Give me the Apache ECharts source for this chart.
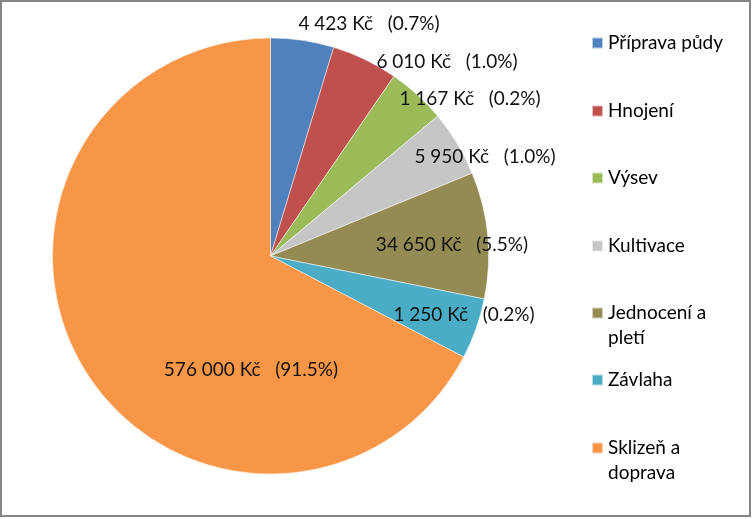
<!DOCTYPE html>
<html>
<head>
<meta charset="utf-8">
<script src="https://cdn.jsdelivr.net/npm/echarts@6/dist/echarts.min.js"></script>
<style>
  html, body { margin: 0; padding: 0; background: #fff; }
  #chart { position: absolute; left: 0; top: 0; width: 747px; height: 513px; border: 2px solid #868686; background: #fff; }
</style>
</head>
<body>
<div id="chart"></div>
<script>
// ---- data ----
const categories = ['Příprava půdy', 'Hnojení', 'Výsev', 'Kultivace', 'Jednocení a pletí', 'Závlaha', 'Sklizeň a doprava'];
const amountsCZK = [4423, 6010, 1167, 5950, 34650, 1250, 576000];
const percentLabels = [0.7, 1.0, 0.2, 1.0, 5.5, 0.2, 91.5];
// slice sizes as drawn in the reference (angles in degrees)
const sliceSizes = [16.85, 17.65, 15.56, 17.6, 33.7, 16.24, 242.4];

// ---- styling / layout ----
const colors = ['#4F81BD', '#C0504D', '#9BBB59', '#C6C6C6', '#948A54', '#4BACC6', '#F79646'];
const labelCenters = [[367, 22], [445, 60], [468, 97], [483, 155], [450, 243], [462, 313], [249, 368]];
const legendIconCenters = [41, 109, 176, 244, 311, 378, 446];
const FONT = 'Lato';
const FS = 19;
const LH = 25;

function fmtNum(n) { return String(n).replace(/\B(?=(\d{3})+(?!\d))/g, '\u00a0'); }
function legendText(name) {
  if (name.indexOf(' a ') > 0) return '\u00a0\n' + name.replace(' a ', ' a\n');
  return name;
}

const chart = echarts.init(document.getElementById('chart'), null, { renderer: 'canvas' });

const legends = categories.map(function (name, i) {
  const twoLine = name.indexOf(' a ') > 0;
  return {
    data: [name],
    orient: 'vertical',
    left: 589,
    top: legendIconCenters[i] - (twoLine ? 1.5 * LH : 0.5 * LH),
    padding: 0,
    itemWidth: 11,
    itemHeight: 11,
    icon: 'rect',
    selectedMode: false,
    formatter: legendText,
    textStyle: { fontFamily: FONT, fontSize: FS, lineHeight: LH, color: '#000' }
  };
});

chart.setOption({
  animation: false,
  color: colors,
  legend: legends,
  series: [{
    type: 'pie',
    center: [268.5, 254],
    radius: 218,
    startAngle: 90,
    clockwise: true,
    avoidLabelOverlap: false,
    itemStyle: { borderColor: 'rgba(255,255,255,0.6)', borderWidth: 0.8 },
    label: {
      show: true,
      position: 'inside',
      fontFamily: FONT,
      fontSize: FS,
      color: '#111',
      formatter: function (p) {
        const i = p.dataIndex;
        return fmtNum(amountsCZK[i]) + ' Kč   (' + percentLabels[i].toFixed(1) + '%)';
      }
    },
    labelLine: { show: false },
    labelLayout: function (params) {
      const c = labelCenters[params.dataIndex];
      return { x: c[0], y: c[1], align: 'center', verticalAlign: 'middle' };
    },
    emphasis: { disabled: true },
    data: categories.map(function (name, i) { return { name: name, value: sliceSizes[i] }; })
  }]
});
</script>
</body>
</html>
